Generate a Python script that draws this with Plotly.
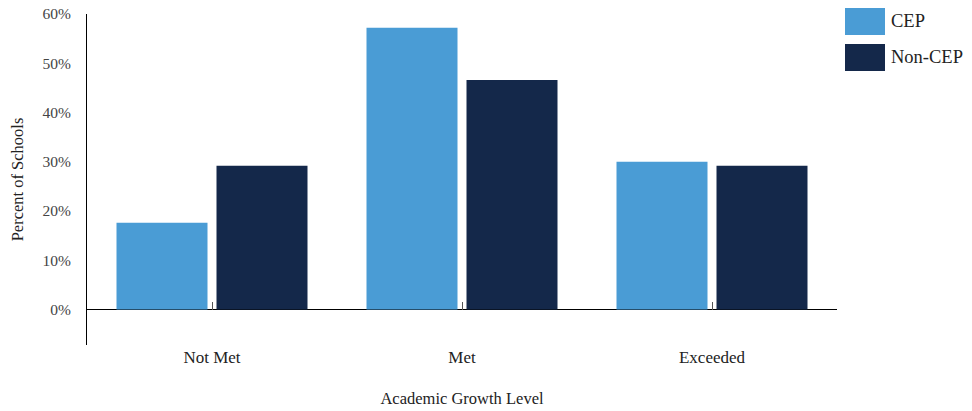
import plotly.graph_objects as go

# Share of schools at each academic growth level, CEP vs non-CEP
categories = ["Not Met", "Met", "Exceeded"]
cep_pct = [17.6, 57.2, 30.0]
non_cep_pct = [29.2, 46.6, 29.2]
series_names = ["CEP", "Non-CEP"]
y_ticks = [0, 10, 20, 30, 40, 50, 60]
y_tick_labels = ["0%", "10%", "20%", "30%", "40%", "50%", "60%"]

colors = ["#4A9CD5", "#14284A"]
font_family = "Liberation Serif, Times New Roman, serif"
text_color = "#333333"
y_min, y_max = -7.2, 60

fig = go.Figure()
for name, vals, col in zip(series_names, [cep_pct, non_cep_pct], colors):
    fig.add_trace(go.Bar(x=categories, y=vals, name=name, marker_color=col,
                         marker_line_width=0, showlegend=False,
                         hovertemplate="%{x}: %{y:.1f}%<extra>" + name + "</extra>"))

# invisible trace to carry the tick marks on the zero line
fig.add_trace(go.Scatter(x=categories, y=[0, 0, 0], xaxis="x2", mode="none",
                         showlegend=False, hoverinfo="skip"))

zero_pos = (0 - y_min) / (y_max - y_min)

fig.update_layout(
    width=972, height=411,
    margin=dict(l=87, r=135, t=14, b=66),
    paper_bgcolor="white", plot_bgcolor="white",
    font=dict(family=font_family, color=text_color, size=15),
    barmode="group", bargap=0.2, bargroupgap=0.09,
    xaxis=dict(
        categoryorder="array", categoryarray=categories, automargin=False,
        showline=False, showgrid=False, zeroline=False, ticks="",
        tickfont=dict(size=17, color="#222222"),
        title=dict(text="Academic Growth Level", font=dict(size=16.5, color="#222222"),
                   standoff=26),
    ),
    xaxis2=dict(
        overlaying="x", anchor="free", position=zero_pos, side="bottom",
        categoryorder="array", categoryarray=categories, automargin=False,
        matches="x", showline=False, showgrid=False, zeroline=False,
        ticks="inside", ticklen=8, tickwidth=1, tickcolor="#555555",
        showticklabels=False,
    ),
    yaxis=dict(
        range=[y_min, y_max], tickvals=y_ticks, ticktext=y_tick_labels,
        automargin=False,
        showgrid=False, showline=True, linecolor="#000000", linewidth=1,
        zeroline=True, zerolinecolor="#000000", zerolinewidth=1,
        ticks="", ticklabelstandoff=12,
        tickfont=dict(size=15.5, color="#444444"),
        title=dict(text="Percent of Schools", font=dict(size=16.5, color="#222222"),
                   standoff=14),
    ),
)

# legend: large colour swatches with labels to the right
shapes = []
annotations = []
swatch_top = [8, 44]
for name, col, top in zip(series_names, colors, swatch_top):
    shapes.append(dict(type="rect", xref="paper", yref="paper",
                       x0=(845 - 87) / 750, x1=(885 - 87) / 750,
                       y0=(345 - (top + 27)) / 331, y1=(345 - top) / 331,
                       fillcolor=col, line_width=0))
    annotations.append(dict(xref="paper", yref="paper", x=(889 - 87) / 750,
                            y=(345 - (top + 13.5)) / 331, xanchor="left", yanchor="middle",
                            text=name, showarrow=False,
                            font=dict(size=18.5, color="#222222")))
fig.update_layout(shapes=shapes, annotations=annotations)

fig.write_html("out.html")
